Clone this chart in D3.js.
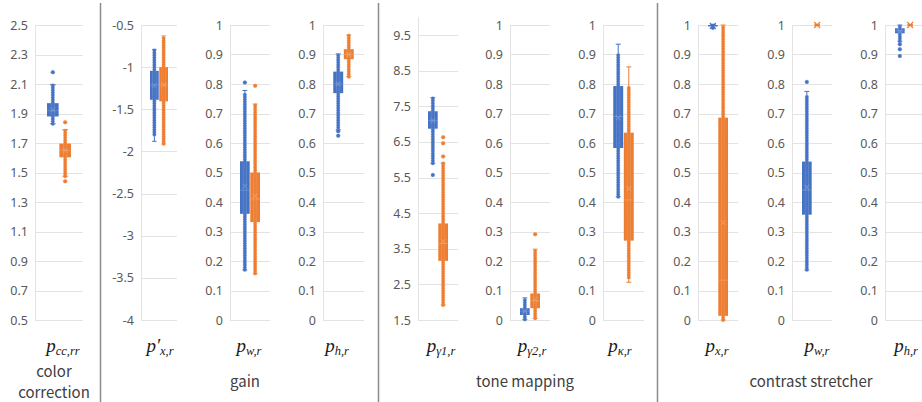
<!DOCTYPE html>
<html>
<head>
<meta charset="utf-8">
<script src="https://cdn.jsdelivr.net/npm/d3@7"></script>
<style>
  body { margin: 0; background: #fff; }
  svg { display: block; }
</style>
</head>
<body>
<svg id="chart" width="922" height="402"></svg>
<script>
// ---- data ----
const subLabels = ['cc,rr', 'x,r', 'w,r', 'h,r', 'γ1,r', 'γ2,r', 'κ,r', 'x,r', 'w,r', 'h,r'];
const primed = [false, true, false, false, false, false, false, false, false, false];
const groupNames = [['color', 'correction'], ['gain'], ['tone mapping'], ['contrast stretcher']];

const yDomains = [[0.5, 2.5], [-4, -0.5], [0, 1], [0, 1], [1.5, 10], [0, 1], [0, 1], [0, 1], [0, 1], [0, 1]];
const unitTicks = [0, 0.1, 0.2, 0.3, 0.4, 0.5, 0.6, 0.7, 0.8, 0.9, 1];
const yTicks = [
  [0.5, 0.7, 0.9, 1.1, 1.3, 1.5, 1.7, 1.9, 2.1, 2.3, 2.5],
  [-4, -3.5, -3, -2.5, -2, -1.5, -1, -0.5],
  unitTicks, unitTicks,
  [1.5, 2.5, 3.5, 4.5, 5.5, 6.5, 7.5, 8.5, 9.5],
  unitTicks, unitTicks, unitTicks, unitTicks, unitTicks
];

// box stats per panel: [q1, median, q3, mean, whiskerLow, whiskerHigh]
const blueBox = [
  [1.88, 1.92, 1.97, 1.925, 1.83, 2.095],
  [-1.387, -1.21, -1.044, -1.22, -1.88, -0.79],
  [0.36, 0.44, 0.538, 0.454, 0.17, 0.778],
  [0.769, 0.80, 0.842, 0.80, 0.645, 0.902],
  [6.87, 7.1, 7.36, 7.1, 5.90, 7.74],
  [0.017, 0.03, 0.04, 0.03, 0.002, 0.075],
  [0.583, 0.69, 0.793, 0.685, 0.418, 0.935],
  [0.995, 1.0, 1.0, 0.997, 0.99, 1.0],
  [0.357, 0.44, 0.537, 0.45, 0.17, 0.775],
  [0.972, 0.98, 0.989, 0.978, 0.945, 1.0]
];
const orangeBox = [
  [1.603, 1.65, 1.696, 1.65, 1.475, 1.79],
  [-1.406, -1.21, -1.0, -1.21, -1.91, -0.63],
  [0.332, 0.41, 0.50, 0.42, 0.158, 0.732],
  [0.884, 0.90, 0.918, 0.90, 0.825, 0.966],
  [3.16, 3.65, 4.21, 3.7, 1.92, 5.90],
  [0.04, 0.065, 0.09, 0.07, 0.006, 0.24],
  [0.269, 0.407, 0.635, 0.445, 0.128, 0.858],
  [0.014, 0.135, 0.686, 0.33, 0.0, 1.0],
  [1, 1, 1, 1, 1, 1],
  [1, 1, 1, 1, 1, 1]
];

// continuous runs of inner points [low, high]
const blueRuns = [[1.83, 2.095], [-1.80, -0.79], [0.17, 0.77], [0.645, 0.902], [5.90, 7.74],
  [0.002, 0.075], [0.418, 0.904], [0.99, 1.0], [0.17, 0.762], [0.945, 1.0]];
const orangeRuns = [[1.475, 1.79], [-1.91, -0.63], [0.158, 0.732], [0.825, 0.966], [1.92, 5.90],
  [0.006, 0.24], [0.144, 0.793], [0.0, 1.0], null, null];

// isolated points
const blueOutliers = [[2.18], [], [0.805], [0.625, 0.64], [5.57], [], [], [], [0.807], [0.935, 0.918, 0.895]];
const orangeOutliers = [[1.84, 1.44], [], [0.794], [], [6.09, 6.46, 6.63], [0.291], [], [], [], []];

// ---- layout ----
const svg = d3.select('#chart');
const plotX = [[35, 83], [141, 177], [230, 270], [323, 364], [418, 458], [510, 550], [603, 644], [698, 738], [792, 832], [885, 925]];
const labelX = [63, 160, 249, 337, 441, 532, 620, 717, 817, 906];
const groupX = [54, 245, 525, 811];
const dividers = [100.5, 378.5, 657.5];
const colors = { blue: '#4472C4', orange: '#ED7D31' };
const light = { blue: '#8faadc', orange: '#f4b183' };

function beads(g, cx, y0, y1, color, width, opacity) {
  g.append('line')
    .attr('x1', cx).attr('x2', cx).attr('y1', y0).attr('y2', y1)
    .attr('stroke', color).attr('stroke-width', width).attr('stroke-opacity', opacity)
    .attr('stroke-linecap', 'round').attr('stroke-dasharray', '0 2.4');
}

function drawSeries(g, x, y, key, box, run, outliers) {
  if (!box) return;
  const c = colors[key];
  const bw = x.bandwidth();
  const cx = x(key) + bw / 2;
  const [q1, med, q3, mean, wLo, wHi] = box;

  // whiskers with caps
  const wg = g.append('g').attr('stroke', c).attr('stroke-width', 1);
  wg.append('line').attr('x1', cx).attr('x2', cx).attr('y1', y(wLo)).attr('y2', y(q1));
  wg.append('line').attr('x1', cx).attr('x2', cx).attr('y1', y(q3)).attr('y2', y(wHi));
  [wLo, wHi].forEach(v => {
    wg.append('line').attr('x1', cx - bw * 0.25).attr('x2', cx + bw * 0.25)
      .attr('y1', y(v)).attr('y2', y(v));
  });

  // box
  g.append('rect')
    .attr('x', x(key)).attr('width', bw)
    .attr('y', y(q3)).attr('height', Math.max(0, y(q1) - y(q3)))
    .attr('fill', c);

  // inner points: dense run drawn as a beaded column
  if (run) {
    const [lo, hi] = run;
    beads(g, cx, y(lo), y(hi), light[key], 4.4, 0.6);
    beads(g, cx, y(lo), y(hi), c, 3.4, 1);
    // ring texture inside the box
    const a = Math.max(lo, q1), b = Math.min(hi, q3);
    if (b > a) beads(g, cx, y(a), y(b), light[key], 1.2, 0.35);
  }

  g.selectAll(null).data(outliers).enter().append('circle')
    .attr('cx', cx).attr('cy', d => y(d)).attr('r', 2)
    .attr('fill', c).attr('stroke', light[key]).attr('stroke-opacity', 0.6).attr('stroke-width', 0.5);

  // median line and mean marker
  const flat = y(q1) - y(q3) < 3;
  const mk = flat ? c : light[key];
  g.append('line')
    .attr('x1', x(key) + (flat ? 2 : 0)).attr('x2', x(key) + bw - (flat ? 2 : 0))
    .attr('y1', y(med)).attr('y2', y(med))
    .attr('stroke', mk).attr('stroke-opacity', flat ? 1 : 0.45).attr('stroke-width', flat ? 1.4 : 1);
  const my = y(mean), s = flat ? 3 : 2.5;
  g.append('path')
    .attr('d', `M${cx - s},${my - s}L${cx + s},${my + s}M${cx - s},${my + s}L${cx + s},${my - s}`)
    .attr('stroke', mk).attr('stroke-opacity', flat ? 1 : 0.45).attr('stroke-width', 1.1)
    .attr('fill', 'none');
}

plotX.forEach(([x0, x1], i) => {
  const bottom = 320;
  const dom = yDomains[i];
  // panel 5 keeps its unlabelled maximum above the top gridline
  const top = i === 4 ? bottom - (dom[1] - dom[0]) * (285 / 8) : 25;
  const y = d3.scaleLinear().domain(dom).range([bottom, top]);
  const w = x1 - x0, c = (x0 + x1) / 2;
  const x = d3.scaleBand().domain(['blue', 'orange'])
    .range([c - w * 0.25, c + w * 0.25]).paddingInner(0.06);

  const g = svg.append('g');

  // gridlines
  g.selectAll('line.grid').data(yTicks[i]).enter().append('line')
    .attr('class', 'grid')
    .attr('x1', x0).attr('x2', x1)
    .attr('y1', d => Math.round(y(d)) + 0.5).attr('y2', d => Math.round(y(d)) + 0.5)
    .attr('stroke', '#e3e3e3').attr('stroke-width', 1);
  // left axis line
  g.append('line')
    .attr('x1', x0 + 0.5).attr('x2', x0 + 0.5).attr('y1', top).attr('y2', bottom)
    .attr('stroke', '#e3e3e3');

  // tick labels via a d3 axis
  const axis = d3.axisLeft(y).tickValues(yTicks[i]).tickSize(0).tickPadding(7)
    .tickFormat(d => String(+d.toFixed(2)));
  const ag = g.append('g').attr('transform', `translate(${x0},0)`).call(axis);
  ag.select('.domain').remove();
  ag.selectAll('text')
    .attr('fill', '#595959')
    .style('font-family', '"Noto Sans", "Open Sans", sans-serif')
    .style('font-size', '12.5px');

  drawSeries(g, x, y, 'blue', blueBox[i], blueRuns[i], blueOutliers[i]);
  drawSeries(g, x, y, 'orange', orangeBox[i], orangeRuns[i], orangeOutliers[i]);

  // math label p_{...}
  const t = svg.append('text')
    .attr('x', labelX[i]).attr('y', 352)
    .attr('text-anchor', 'middle')
    .style('font-family', '"Liberation Serif", "DejaVu Serif", serif')
    .style('font-style', 'italic')
    .attr('fill', '#1a1a1a');
  t.append('tspan').style('font-size', '19px').text(primed[i] ? 'p′' : 'p');
  t.append('tspan').style('font-size', '12.5px').attr('dy', 3).text(subLabels[i]);
});

// group labels
groupNames.forEach((lines, i) => {
  const baseY = lines.length > 1 ? 377 : 387;
  lines.forEach((s, j) => {
    svg.append('text')
      .attr('x', groupX[i]).attr('y', baseY + j * 21)
      .attr('text-anchor', 'middle')
      .attr('fill', '#404040')
      .style('font-family', '"Noto Sans CJK JP", "Noto Sans", sans-serif')
      .style('font-size', '15px')
      .text(s);
  });
});

// group dividers
svg.selectAll('line.divider').data(dividers).enter().append('line')
  .attr('class', 'divider')
  .attr('x1', d => d).attr('x2', d => d).attr('y1', 3).attr('y2', 402)
  .attr('stroke', '#8c8c8c').attr('stroke-width', 1.5);
</script>
</body>
</html>
